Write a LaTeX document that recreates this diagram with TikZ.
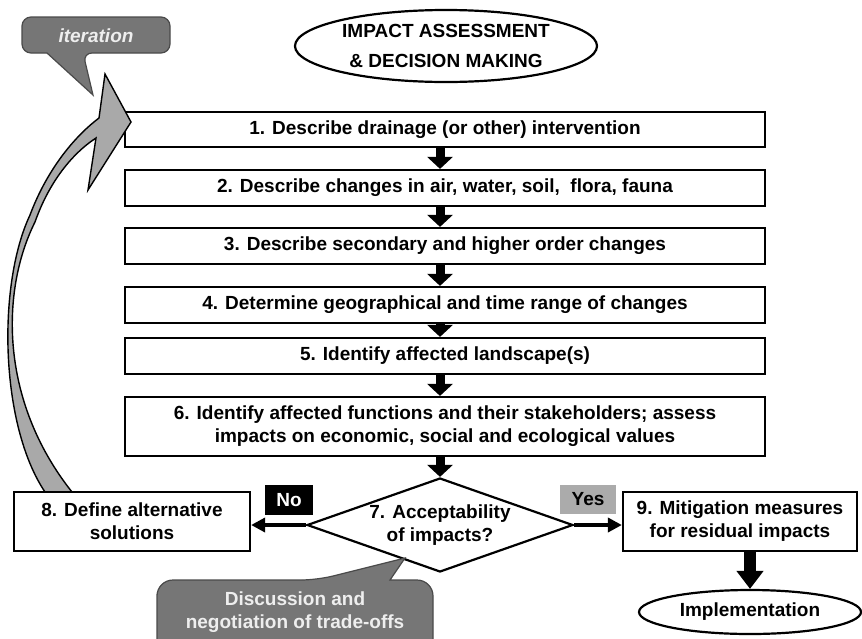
\documentclass[tikz,border=0pt]{standalone}
\usepackage{fontspec}
\setmainfont{Liberation Sans}
\usetikzlibrary{arrows.meta,shapes.geometric}
\definecolor{arrowgray}{HTML}{A9A9A9}
\definecolor{calloutgray}{HTML}{767676}
\definecolor{calloutedge}{HTML}{4A4A4A}
\definecolor{callouttext}{HTML}{EEEEEE}
\definecolor{yesgray}{HTML}{ABABAB}
\tikzset{
  txt/.style={font=\bfseries\fontsize{19}{23}\selectfont},
  stepbox/.style={txt,draw=black,line width=2.2pt,fill=white,inner sep=0pt,align=center},
  flow/.style={line width=9pt,-{Triangle[width=25pt,length=12pt]}},
  bigflow/.style={line width=12pt,-{Triangle[width=26pt,length=18pt]}},
  sideflow/.style={line width=4.5pt,-{Triangle[width=14pt,length=14pt]}},
  callout/.style={fill=calloutgray,draw=calloutedge,line width=1.2pt},
}
\begin{document}
\begin{tikzpicture}[x=1pt,y=-1pt]
\useasboundingbox (0,0) rectangle (862,638);
\clip (0,0) rectangle (862,638);

% title ellipse
\node[txt,draw=black,line width=2.2pt,ellipse,minimum width=302pt,minimum height=72pt,inner sep=0pt,align=center]
  (title) at (446,46) {IMPACT ASSESSMENT\\[7pt]\& DECISION MAKING};

% steps
\node[stepbox,minimum width=640pt,minimum height=35pt] (b1) at (445,129.5) {1. Describe drainage (or other) intervention};
\node[stepbox,minimum width=640pt,minimum height=36pt] (b2) at (445,188) {2. Describe changes in air, water, soil,\ \ flora, fauna};
\node[stepbox,minimum width=640pt,minimum height=36pt] (b3) at (445,246) {3. Describe secondary and higher order changes};
\node[stepbox,minimum width=640pt,minimum height=36pt] (b4) at (445,305) {4. Determine geographical and time range of changes};
\node[stepbox,minimum width=640pt,minimum height=36pt] (b5) at (445,356) {5. Identify affected landscape(s)};
\node[stepbox,minimum width=640pt,minimum height=59pt] (b6) at (445,426.5) {6. Identify affected functions and their stakeholders; assess\\impacts on economic, social and ecological values};

% decision diamond
\node[txt,draw=black,line width=2.2pt,diamond,fill=white,aspect=2.83,minimum width=266pt,minimum height=94pt,inner sep=0pt,align=center]
  (d) at (440,525) {7. Acceptability\\of impacts?};

% discussion callout
\path[callout] (157,610) [rounded corners=16pt] |- (317,580) [sharp corners] -- (405,558) -- (390,580) [rounded corners=16pt] -| (433,660) -- (157,660) -- cycle;
\node[txt,text=callouttext,align=center] (disc) at (295,612) {Discussion and\\negotiation of trade-offs};

% iteration arrow
\path[fill=arrowgray,draw=black,line width=1.4pt,line join=miter]
  (45,492) .. controls (0,425) and (-3,285) .. (30,215)
  .. controls (45,175) and (70,140) .. (99,118)
  -- (105,74) -- (131,122) -- (88,190) -- (96,138)
  .. controls (70,155) and (48,185) .. (35,222)
  .. controls (1,290) and (-1,400) .. (72,492) -- cycle;

% iteration callout
\path[callout] (22,35) [rounded corners=9pt] |- (170,17) |- (83,53) [sharp corners] -- (93,95) -- (47,53) [rounded corners=9pt] -| (22,35) -- cycle;
\node[font=\bfseries\itshape\fontsize{19}{23}\selectfont,text=callouttext] (iter) at (96,36) {iteration};

% side boxes
\node[stepbox,minimum width=236pt,minimum height=59pt] (b8) at (132,521.5) {8. Define alternative\\solutions};
\node[stepbox,minimum width=234pt,minimum height=59pt] (b9) at (740,521.5) {9. Mitigation measures\\for residual impacts};
\node[txt,draw=black,line width=2.2pt,ellipse,minimum width=222pt,minimum height=44pt,inner sep=0pt]
  (impl) at (750,612) {Implementation};

% labels
\node[txt,fill=black,text=white,minimum width=48pt,minimum height=30pt,inner sep=0pt] (no) at (289,500) {No};
\node[txt,fill=yesgray,text=black,minimum width=56pt,minimum height=29pt,inner sep=0pt] (yes) at (588,499) {Yes};

% connectors
\draw[flow] (b1.south -| d.north) -- (b2.north -| d.north);
\draw[flow] (b2.south -| d.north) -- (b3.north -| d.north);
\draw[flow] (b3.south -| d.north) -- (b4.north -| d.north);
\draw[flow] (b4.south -| d.north) -- (b5.north -| d.north);
\draw[flow] (b5.south -| d.north) -- (b6.north -| d.north);
\draw[flow] (b6.south -| d.north) -- (d.north);
\draw[sideflow] (d.west) -- (d.west -| b8.east);
\draw[sideflow] (d.east) -- (d.east -| b9.west);
\draw[bigflow] (b9.south -| impl.north) -- (impl.north);
\end{tikzpicture}
\end{document}
